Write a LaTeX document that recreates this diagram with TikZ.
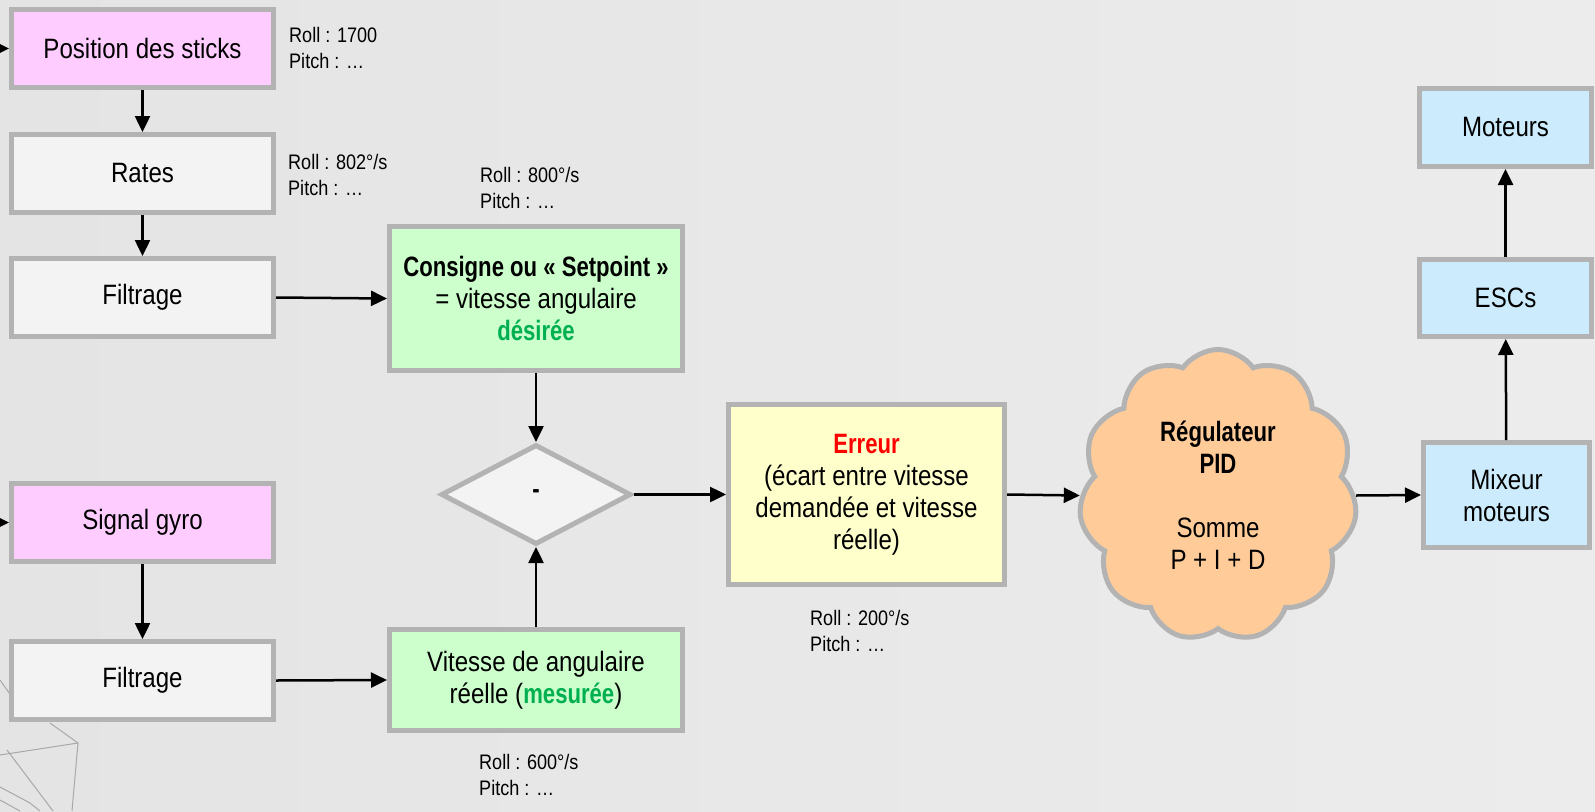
\documentclass[tikz,border=0pt]{standalone}
\usepackage{fontspec}
\setmainfont[FakeStretch=0.86,BoldFeatures={FakeStretch=0.79}]{Liberation Sans}
\usetikzlibrary{shapes.geometric,shapes.symbols,arrows.meta}
\definecolor{bordergrey}{HTML}{B3B3B3}
\definecolor{pinkfill}{HTML}{FFCCFF}
\definecolor{greyfill}{HTML}{F3F3F3}
\definecolor{greenfill}{HTML}{CCFFCC}
\definecolor{yellowfill}{HTML}{FFFFCC}
\definecolor{bluefill}{HTML}{CCEBFC}
\definecolor{orangefill}{HTML}{FFCC99}
\definecolor{greentext}{HTML}{00B050}
\definecolor{redtext}{HTML}{FF0000}
\definecolor{bgl}{HTML}{E4E4E4}
\definecolor{bgr}{HTML}{ECECEC}
\definecolor{decor}{HTML}{A8A8A8}
\begin{document}
\begin{tikzpicture}[x=1pt,y=-1pt,
  box/.style={draw=bordergrey, line width=5pt, outer sep=2.5pt, inner sep=0pt,
    align=center, font=\fontsize{28}{32}\selectfont,
    minimum width=262pt, minimum height=78pt},
  conn/.style={line width=2.5pt, draw=black, -{Triangle[length=16pt,width=15pt]}},
  lab/.style={anchor=west, align=left, font=\fontsize{21}{26}\selectfont, inner sep=0pt},
  decoline/.style={draw=decor, line width=1pt}
]
\useasboundingbox (0,0) rectangle (1595,811);
\shade[left color=bgl, right color=bgr] (0,0) rectangle (1595,811);

% faint decorative lines, bottom-left corner
\draw[decoline] (0,680) -- (12,697);
\draw[decoline] (50,723) -- (78,743) -- (72,811);
\draw[decoline] (0,755) -- (78,743);
\draw[decoline] (7,750) -- (53,811);
\draw[decoline] (0,787) -- (30,803) -- (40,811);
\draw[decoline] (0,800) -- (20,811);

% left column
\node[box, fill=pinkfill] (pos) at (142.5,48.5) {Position des sticks};
\node[box, fill=greyfill] (rates) at (142.5,173.5) {Rates};
\node[box, fill=greyfill] (filt1) at (142.5,297.5) {Filtrage};
\node[box, fill=pinkfill] (gyro) at (142.5,522.5) {Signal gyro};
\node[box, fill=greyfill] (filt2) at (142.5,680.5) {Filtrage};

% middle column
\node[box, fill=greenfill, minimum width=293pt, minimum height=144pt] (cons) at (536,298.5)
  {\textbf{Consigne ou «~Setpoint~»}\\= vitesse angulaire\\\textcolor{greentext}{\textbf{désirée}}};
\node[box, fill=greenfill, minimum width=293pt, minimum height=101pt] (vit) at (536,680)
  {Vitesse de angulaire\\réelle (\textcolor{greentext}{\textbf{mesurée}})};
\node[box, shape=diamond, fill=greyfill, minimum width=190pt, minimum height=100pt] (diff) at (536,494.5)
  {\textbf{-}};

\node[box, fill=yellowfill, minimum width=276pt, minimum height=180pt] (err) at (866.5,494.5)
  {\textcolor{redtext}{\textbf{Erreur}}\\(écart entre vitesse\\demandée et vitesse\\réelle)};

\node[cloud, draw=bordergrey, fill=orangefill, line width=5pt, outer sep=2.5pt,
  cloud puffs=11, cloud puff arc=110, cloud ignores aspect,
  minimum width=278pt, minimum height=292pt, inner sep=0pt,
  align=center, font=\fontsize{28}{32}\selectfont] (pid) at (1218,495.5)
  {\textbf{Régulateur}\\\textbf{PID}\\[32pt]Somme\\P + I + D};

% right column
\node[box, fill=bluefill, minimum width=166pt, minimum height=105pt] (mix) at (1506.5,495) {Mixeur\\moteurs};
\node[box, fill=bluefill, minimum width=172pt, minimum height=77pt] (esc) at (1505.5,298) {ESCs};
\node[box, fill=bluefill, minimum width=172pt, minimum height=78pt] (mot) at (1505.5,127.5) {Moteurs};

% labels
\node[lab] (l1) at (289,48) {Roll : 1700\\Pitch : …};
\node[lab] (l2) at (288,174.5) {Roll : 802°/s\\Pitch : …};
\node[lab] (l3) at (480,188) {Roll : 800°/s\\Pitch : …};
\node[lab] (l4) at (810,631) {Roll : 200°/s\\Pitch : …};
\node[lab] (l5) at (479,775) {Roll : 600°/s\\Pitch : …};

% connectors
\coordinate (in1) at (0,48.5);
\coordinate (in2) at (0,522.5);
\draw[conn] (in1) -- (pos.west);
\draw[conn] (in2) -- (gyro.west);
\draw[conn] (pos) -- (rates);
\draw[conn] (rates) -- (filt1);
\draw[conn] (gyro) -- (filt2);
\draw[conn] (filt1.east) -- (cons.west);
\draw[conn] (filt2.east) -- (vit.west);
\draw[conn] (cons) -- (diff);
\draw[conn] (vit) -- (diff);
\draw[conn] (diff.east) -- (err.west);
\draw[conn] (err.east) -- (pid.west);
\draw[conn] (pid.east) -- (mix.west);
\draw[conn] (mix) -- (esc);
\draw[conn] (esc) -- (mot);
\end{tikzpicture}
\end{document}
